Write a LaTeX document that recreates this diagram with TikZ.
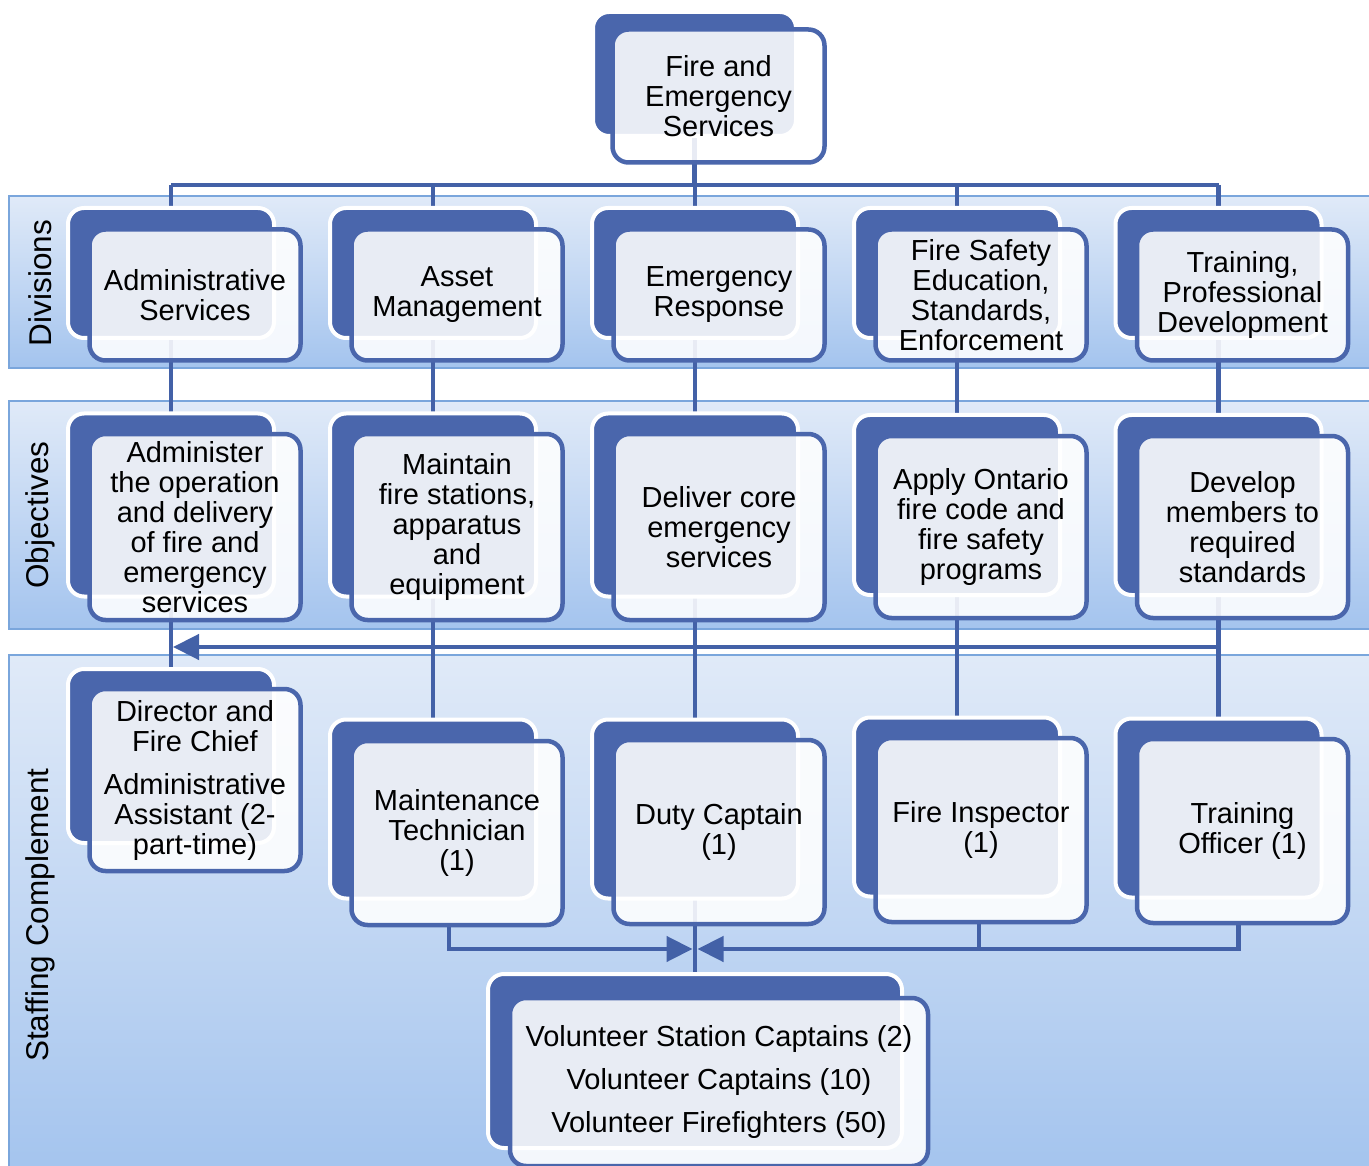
\documentclass[tikz,border=0pt]{standalone}
\usepackage{fontspec}
\setmainfont{Liberation Sans}
\usetikzlibrary{arrows.meta}

\definecolor{boxblue}{HTML}{4A66AC}
\definecolor{lineblue}{HTML}{4361A7}
\definecolor{bandtop}{HTML}{E0EAF8}
\definecolor{bandbot}{HTML}{A4C4EE}
\definecolor{bandedge}{HTML}{7AA6DC}

\newcommand\orgfont{\fontsize{29}{30}\selectfont}
\newcommand\bandfont{\fontsize{31.5}{33}\selectfont}

\pgfdeclarelayer{bands}
\pgfdeclarelayer{lines}
\pgfsetlayers{bands,lines,main}

\begin{document}
\begin{tikzpicture}[x=1pt,y=-1pt,
	boxsize/.style 2 args	=	{minimum width=#1pt,minimum height=#2pt},
	back/.style	=	{draw=white,line width=4pt,fill=boxblue,rounded corners=16pt,inner sep=0pt},
	front/.style	=	{draw=boxblue,line width=4.5pt,fill=white,fill opacity=.88,text opacity=1,
							rounded corners=16pt,inner sep=0pt,align=center,font=\orgfont},
	band/.style	=	{top color=bandtop,bottom color=bandbot,draw=bandedge,line width=2pt},
	bandlabel/.style	=	{rotate=90,font=\bandfont,inner sep=0pt},
	conn/.style	=	{draw=lineblue,line width=4.5pt},
	tip/.style	=	{-{Triangle[length=26pt,width=25pt]}}]

	\useasboundingbox (0,0) rectangle (1369,1166);

	\begin{pgfonlayer}{bands}
		\shadedraw[band] (9,196) rectangle (1372,368);
		\shadedraw[band] (9,401) rectangle (1372,629);
		\shadedraw[band] (9,655) rectangle (1372,1172);
	\end{pgfonlayer}

	\node[bandlabel] (div-lab) at (40,283) {Divisions};
	\node[bandlabel] (obj-lab) at (40,515) {Objectives};
	\node[bandlabel] (stf-lab) at (40,915) {Staffing Complement};

	% top
	\node[back,boxsize={203}{124}] (fes-b) at (694.5,74) {};
	\node[front,boxsize={212}{133}] (fes) at ([shift={(24,22)}]fes-b.center) {Fire and\\Emergency\\Services};

	% divisions
	\node[back,boxsize={206}{130}] (adm-b) at (171,273) {};
	\node[front,boxsize={211}{131}] (adm) at ([shift={(24,22)}]adm-b.center) {Administrative\\Services};
	\node[back,boxsize={206}{130}] (asm-b) at (433,273) {};
	\node[front,boxsize={211}{131}] (asm) at ([shift={(24,22)}]asm-b.center) {Asset\\Management};
	\node[back,boxsize={206}{130}] (emr-b) at (695,273) {};
	\node[front,boxsize={211}{131}] (emr) at ([shift={(24,22)}]emr-b.center) {Emergency\\Response};
	\node[back,boxsize={206}{130}] (fsd-b) at (957,273) {};
	\node[front,boxsize={211}{131}] (fsd) at ([shift={(24,22)}]fsd-b.center) {Fire Safety\\Education,\\Standards,\\Enforcement};
	\node[back,boxsize={206}{130}] (tpd-b) at (1218.5,273) {};
	\node[front,boxsize={211}{131}] (tpd) at ([shift={(24,22)}]tpd-b.center) {Training,\\Professional\\Development};

	% objectives
	\node[back,boxsize={206}{183}] (opr-b) at (171,505) {};
	\node[front,boxsize={211}{186}] (opr) at ([shift={(24,22)}]opr-b.center) {Administer\\the operation\\and delivery\\of fire and\\emergency\\services};
	\node[back,boxsize={206}{183}] (mtn-b) at (433,505) {};
	\node[front,boxsize={211}{186}] (mtn) at ([shift={(24,22)}]mtn-b.center) {Maintain\\fire stations,\\apparatus\\and\\equipment};
	\node[back,boxsize={206}{183}] (dlv-b) at (695,505) {};
	\node[front,boxsize={211}{186}] (dlv) at ([shift={(24,22)}]dlv-b.center) {Deliver core\\emergency\\services};
	\node[back,boxsize={206}{180}] (apl-b) at (957,505) {};
	\node[front,boxsize={211}{182}] (apl) at ([shift={(24,22)}]apl-b.center) {Apply Ontario\\fire code and\\fire safety\\programs};
	\node[back,boxsize={206}{180}] (dev-b) at (1218.5,505) {};
	\node[front,boxsize={211}{182}] (dev) at ([shift={(24,22)}]dev-b.center) {Develop\\members to\\required\\standards};

	% staffing complement
	\node[back,boxsize={206}{174}] (chf-b) at (171,756) {};
	\node[front,boxsize={211}{182}] (chf) at ([shift={(24,24)}]chf-b.center)
		{Director and\\Fire Chief\\[13pt]Administrative\\Assistant (2-\\part-time)};
	\node[back,boxsize={206}{179}] (mnt-b) at (433,809) {};
	\node[front,boxsize={211}{184}] (mnt) at ([shift={(24,24)}]mnt-b.center) {Maintenance\\Technician\\(1)};
	\node[back,boxsize={206}{179}] (dut-b) at (695,809) {};
	\node[front,boxsize={211}{184}] (dut) at ([shift={(24,23)}]dut-b.center) {Duty Captain\\(1)};
	\node[back,boxsize={206}{179}] (ins-b) at (957,807) {};
	\node[front,boxsize={211}{184}] (ins) at ([shift={(24,23)}]ins-b.center) {Fire Inspector\\(1)};
	\node[back,boxsize={206}{179}] (tro-b) at (1218.5,808) {};
	\node[front,boxsize={211}{184}] (tro) at ([shift={(24,23)}]tro-b.center) {Training\\Officer (1)};

	\node[back,boxsize={414}{174}] (vol-b) at (695,1061) {};
	\node[front,boxsize={418}{168}] (vol) at ([shift={(24,21)}]vol-b.center)
		{Volunteer Station Captains (2)\\[13pt]Volunteer Captains (10)\\[13pt]Volunteer Firefighters (50)};

	% connectors
	\begin{pgfonlayer}{lines}
		\coordinate (bus) at (0,185);
		\coordinate (obj-bus) at (0,647);
		\coordinate (vol-bus) at (0,949);

		\draw[conn] (fes-b.center) -- (fes-b.center |- bus);
		\draw[conn] (adm-b.center |- bus) -- (tpd-b.center |- bus);
		\draw[conn] (adm-b.center |- bus) -- (opr-b.center) -- (chf-b.north);
		\draw[conn] (asm-b.center |- bus) -- (mtn-b.center) -- (mnt-b.center);
		\draw[conn] (emr-b.center |- bus) -- (dlv-b.center) -- (dut-b.center) -- (vol-b.center);
		\draw[conn] (fsd-b.center |- bus) -- (apl-b.center) -- (ins-b.center);
		\draw[conn] (tpd-b.center |- bus) -- (dev-b.center) -- (tro-b.center);

		\draw[conn,tip] (dev-b.center |- obj-bus) -- ([xshift=2pt]opr-b.center |- obj-bus);

		\draw[conn,tip] ([xshift=-8pt]mnt.south) |- ([xshift=-2.5pt]vol-b.center |- vol-bus);
		\draw[conn,tip] ([xshift=-4pt]tro.south) |- ([xshift=2.5pt]vol-b.center |- vol-bus);
		\draw[conn] ([xshift=-2pt]ins.south) -- ([xshift=-2pt]ins.south |- vol-bus);
	\end{pgfonlayer}
\end{tikzpicture}
\end{document}
